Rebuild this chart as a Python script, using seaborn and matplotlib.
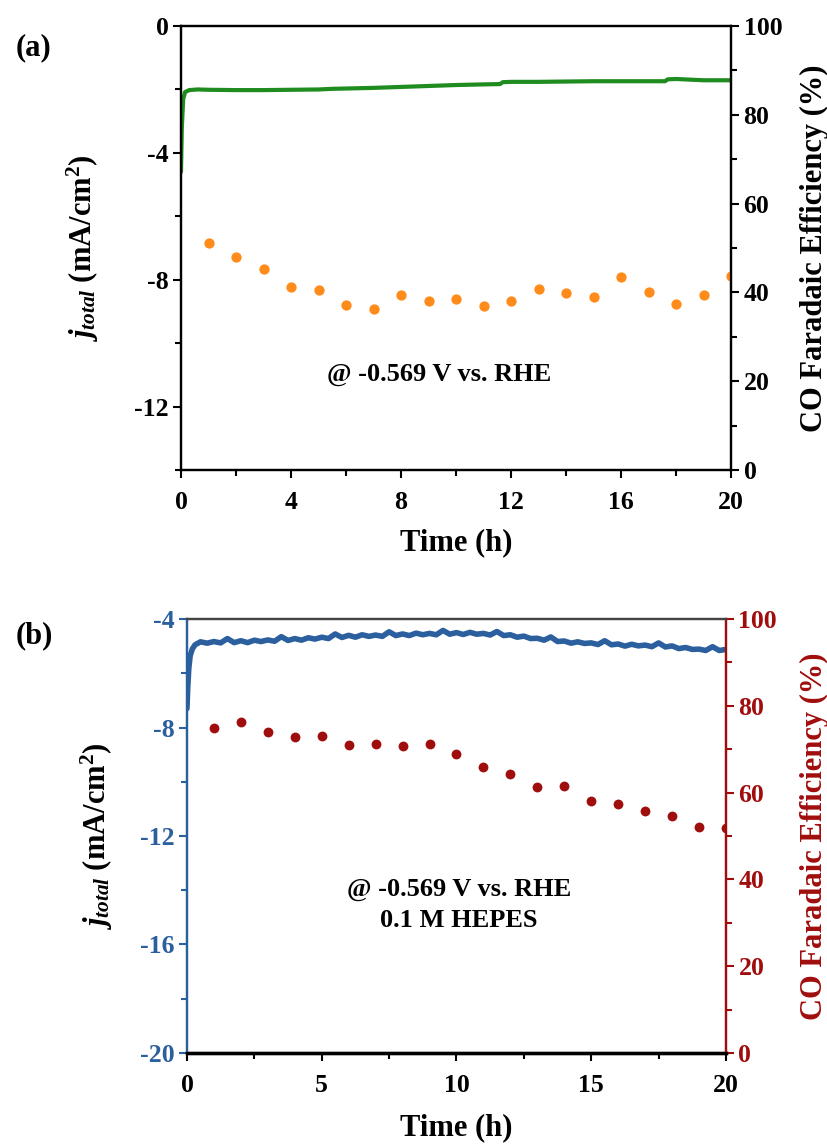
import numpy as np
import matplotlib
matplotlib.use("Agg")
import matplotlib.pyplot as plt
from matplotlib.ticker import MultipleLocator
import seaborn as sns

# ---------------- data ----------------
# (a) chronoamperometry, total current density (mA/cm^2)
time_a = [0.0, 0.03, 0.08, 0.15, 0.3, 0.6, 1.0, 2.0, 3.0, 4.0, 5.0, 5.5, 6.0, 7.0,
          8.0, 9.0, 10.0, 11.0, 11.6, 11.7, 12.0, 13.0, 14.0, 15.0, 16.0, 17.0,
          17.6, 17.7, 18.0, 18.5, 19.0, 20.0]
j_a = [-4.6, -3.2, -2.3, -2.08, -2.02, -2.0, -2.01, -2.02, -2.02, -2.01, -2.0, -1.98,
       -1.97, -1.95, -1.92, -1.89, -1.86, -1.84, -1.83, -1.77, -1.76, -1.76, -1.75,
       -1.74, -1.74, -1.74, -1.74, -1.68, -1.67, -1.69, -1.71, -1.71]

# (a) CO Faradaic efficiency (%) sampled every hour
hours_a = [1, 2, 3, 4, 5, 6, 7, 8, 9, 10, 11, 12, 13, 14, 15, 16, 17, 18, 19, 20]
fe_a = [51.1, 48.0, 45.2, 41.2, 40.5, 37.2, 36.3, 39.4, 38.1, 38.5, 37.0, 38.1,
        40.7, 39.9, 39.0, 43.5, 40.2, 37.5, 39.4, 43.6]

# (b) chronoamperometry in 0.1 M HEPES
time_b = [0.0, 0.03, 0.07, 0.12, 0.2, 0.3,
          0.5, 0.75, 1.0, 1.25, 1.5, 1.75, 2.0, 2.25, 2.5, 2.75, 3.0, 3.25, 3.5, 3.75,
          4.0, 4.25, 4.5, 4.75, 5.0, 5.25, 5.5, 5.75, 6.0, 6.25, 6.5, 6.75, 7.0, 7.25,
          7.5, 7.75, 8.0, 8.25, 8.5, 8.75, 9.0, 9.25, 9.5, 9.75, 10.0, 10.25, 10.5,
          10.75, 11.0, 11.25, 11.5, 11.75, 12.0, 12.25, 12.5, 12.75, 13.0, 13.25, 13.5,
          13.75, 14.0, 14.25, 14.5, 14.75, 15.0, 15.25, 15.5, 15.75, 16.0, 16.25, 16.5,
          16.75, 17.0, 17.25, 17.5, 17.75, 18.0, 18.25, 18.5, 18.75, 19.0, 19.25, 19.5,
          19.75, 20.0]
j_b = [-7.3, -6.5, -5.8, -5.35, -5.1, -4.95,
       -4.84, -4.89, -4.83, -4.88, -4.72, -4.87, -4.80, -4.87, -4.78, -4.83, -4.77,
       -4.82, -4.65, -4.79, -4.72, -4.78, -4.69, -4.74, -4.67, -4.72, -4.55, -4.68,
       -4.60, -4.67, -4.58, -4.64, -4.59, -4.64, -4.47, -4.61, -4.55, -4.61, -4.52,
       -4.58, -4.53, -4.58, -4.42, -4.56, -4.50, -4.57, -4.49, -4.56, -4.53, -4.59,
       -4.46, -4.61, -4.58, -4.67, -4.63, -4.72, -4.71, -4.78, -4.66, -4.83, -4.81,
       -4.89, -4.84, -4.90, -4.88, -4.94, -4.80, -4.95, -4.92, -5.00, -4.93, -4.99,
       -4.96, -5.02, -4.88, -5.03, -4.99, -5.09, -5.05, -5.12, -5.11, -5.16, -5.02,
       -5.16, -5.12]

hours_b = [1, 2, 3, 4, 5, 6, 7, 8, 9, 10, 11, 12, 13, 14, 15, 16, 17, 18, 19, 20]
fe_b = [75.0, 76.2, 74.0, 72.8, 73.1, 71.0, 71.1, 70.7, 71.1, 69.0, 65.8, 64.3,
        61.4, 61.6, 58.1, 57.3, 55.8, 54.6, 52.0, 51.8]

annot_a = "@ -0.569 V vs. RHE"
annot_b = "@ -0.569 V vs. RHE\n0.1 M HEPES"

# ---------------- style ----------------
sns.set_style("ticks")
plt.rcParams["font.family"] = ["Liberation Serif", "DejaVu Serif"]
plt.rcParams["font.weight"] = "bold"
plt.rcParams["axes.labelweight"] = "bold"
plt.rcParams["text.color"] = "black"
plt.rcParams["axes.labelcolor"] = "black"
plt.rcParams["axes.unicode_minus"] = False
plt.rcParams["mathtext.fontset"] = "custom"
plt.rcParams["mathtext.rm"] = "Liberation Serif:bold"
plt.rcParams["mathtext.it"] = "Liberation Serif:italic:bold"
plt.rcParams["mathtext.bf"] = "Liberation Serif:bold"

GREEN = "#1e8c1e"
ORANGE = "#ff8c1a"
BLUE = "#2b5f9e"
RED = "#a00d0d"
TICK_FS = 18.5
LABEL_FS = 22
ylabel_txt = r"$j_{total}$ (mA/cm$^{2}$)"
fe_label = "CO Faradaic Efficiency (%)"

fig = plt.figure(figsize=(8.28, 11.47), dpi=100)


def style_axis(ax, color, which="y"):
    ax.tick_params(axis=which, which="major", direction="out", length=6, width=1.5,
                   colors=color, labelsize=TICK_FS, pad=3)
    ax.tick_params(axis=which, which="minor", direction="out", length=4.5, width=1.5,
                   colors=color)


# ======== panel (a) ========
ax1 = fig.add_axes([0.2186, 0.5902, 0.6643, 0.3871])
ax1b = ax1.twinx()
sns.lineplot(x=time_a, y=j_a, ax=ax1, color=GREEN, lw=3.0, errorbar=None)
sns.scatterplot(x=hours_a, y=fe_a, ax=ax1b, color=ORANGE, s=55, linewidth=0)

ax1.set_xlim(0, 20)
ax1.set_ylim(-14, 0)
ax1b.set_ylim(0, 100)
ax1.xaxis.set_major_locator(MultipleLocator(4))
ax1.xaxis.set_minor_locator(MultipleLocator(2))
ax1.yaxis.set_major_locator(MultipleLocator(4))
ax1.yaxis.set_minor_locator(MultipleLocator(2))
ax1b.yaxis.set_major_locator(MultipleLocator(20))
ax1b.yaxis.set_minor_locator(MultipleLocator(10))

for a in (ax1, ax1b):
    for sp in a.spines.values():
        sp.set_linewidth(1.6)
        sp.set_color("black")
style_axis(ax1, "black", "y")
style_axis(ax1, "black", "x")
ax1.tick_params(axis="x", pad=9)
style_axis(ax1b, "black", "y")
ax1.tick_params(top=False, which="both")
for lbl in ax1.get_xticklabels() + ax1.get_yticklabels() + ax1b.get_yticklabels():
    lbl.set_fontweight("bold")

ax1.set_xlabel("Time (h)", fontsize=LABEL_FS, fontweight="bold")
ax1.xaxis.set_label_coords(0.5, -0.13)
ax1.set_ylabel(ylabel_txt, fontsize=LABEL_FS, fontweight="bold")
ax1.yaxis.set_label_coords(-0.146, 0.5)
ax1b.set_ylabel(fe_label, fontsize=LABEL_FS, fontweight="bold", rotation=90)
ax1b.yaxis.set_label_coords(1.125, 0.5)
ax1.text(9.4, -11.0, annot_a, ha="center", va="center", fontsize=19,
         fontweight="bold")
fig.text(0.04, 0.958, "(a)", ha="center", va="center", fontsize=22,
         fontweight="bold")

# ======== panel (b) ========
ax2 = fig.add_axes([0.2258, 0.0820, 0.6510, 0.3783])
ax2b = ax2.twinx()
sns.lineplot(x=time_b, y=j_b, ax=ax2, color=BLUE, lw=4.0, errorbar=None)
sns.scatterplot(x=hours_b, y=fe_b, ax=ax2b, color=RED, s=50, linewidth=0)

ax2.set_xlim(0, 20)
ax2.set_ylim(-20, -4)
ax2b.set_ylim(0, 100)
ax2.xaxis.set_major_locator(MultipleLocator(5))
ax2.xaxis.set_minor_locator(MultipleLocator(2.5))
ax2.yaxis.set_major_locator(MultipleLocator(4))
ax2.yaxis.set_minor_locator(MultipleLocator(2))
ax2b.yaxis.set_major_locator(MultipleLocator(20))
ax2b.yaxis.set_minor_locator(MultipleLocator(10))

for a in (ax2, ax2b):
    for sp in a.spines.values():
        sp.set_linewidth(1.6)
    a.spines["top"].set_color("#444444")
    a.spines["bottom"].set_color("black")
    a.spines["bottom"].set_linewidth(2.4)
    a.spines["left"].set_color(BLUE)
    a.spines["right"].set_color(RED)
style_axis(ax2, BLUE, "y")
style_axis(ax2, "black", "x")
ax2.tick_params(axis="x", pad=9)
style_axis(ax2b, RED, "y")
ax2.tick_params(top=False, which="both")
for lbl in ax2.get_xticklabels() + ax2.get_yticklabels() + ax2b.get_yticklabels():
    lbl.set_fontweight("bold")

ax2.set_xlabel("Time (h)", fontsize=LABEL_FS, fontweight="bold")
ax2.xaxis.set_label_coords(0.5, -0.14)
ax2.set_ylabel(ylabel_txt, fontsize=LABEL_FS, fontweight="bold", color="black")
ax2.yaxis.set_label_coords(-0.134, 0.5)
ax2b.set_ylabel(fe_label, fontsize=LABEL_FS, fontweight="bold", color=RED,
                rotation=90)
ax2b.yaxis.set_label_coords(1.137, 0.5)
ax2.text(10.1, -14.55, annot_b, ha="center", va="center", fontsize=19,
         fontweight="bold", linespacing=1.45)
fig.text(0.041, 0.446, "(b)", ha="center", va="center", fontsize=22,
         fontweight="bold")

fig.savefig("out.png", dpi=100, facecolor="white")
